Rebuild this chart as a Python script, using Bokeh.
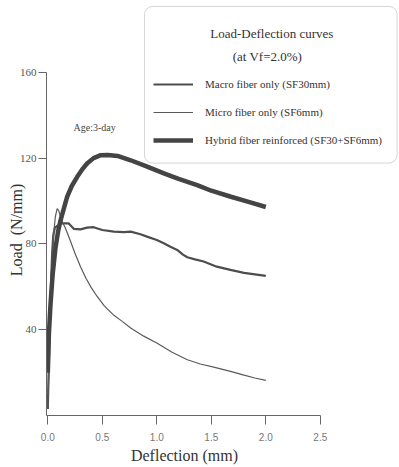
from bokeh.plotting import figure
from bokeh.models import Range1d, FixedTicker, BoxAnnotation, Label, Legend, LegendItem
from bokeh.embed import file_html
from bokeh.resources import INLINE

# ---- data ----
macro_deflection = [0.0, 0.01, 0.02, 0.03, 0.04, 0.05, 0.065, 0.09, 0.13, 0.19, 0.24, 0.3,
                    0.36, 0.42, 0.5, 0.606, 0.7, 0.76, 0.85, 0.91, 1.0, 1.064, 1.12, 1.187,
                    1.24, 1.28, 1.35, 1.43, 1.55, 1.676, 1.8, 1.9, 2.0]
macro_load = [3, 25, 45, 62, 76, 84, 87.5, 88.5, 89.6, 89.6, 87.0, 86.8,
              87.6, 87.8, 86.5, 85.7, 85.5, 85.7, 84.5, 83.4, 81.8, 80.3, 78.8, 77.2,
              75.0, 73.8, 72.8, 71.8, 69.4, 67.9, 66.5, 65.8, 65.1]

micro_deflection = [0.0, 0.01, 0.02, 0.03, 0.04, 0.05, 0.06, 0.07, 0.086, 0.1, 0.115, 0.135,
                    0.16, 0.18, 0.21, 0.25, 0.3, 0.35, 0.4, 0.453, 0.52, 0.6, 0.68, 0.76,
                    0.88, 1.0, 1.14, 1.28, 1.4, 1.55, 1.676, 1.8, 1.9, 2.0]
micro_load = [3, 22, 42, 58, 71, 81, 88, 93, 96.5, 95.5, 93, 90,
              87.5, 85, 81, 75.5, 69.4, 64, 59.5, 55.5, 51, 47, 44, 40.8,
              37, 33.8, 29.5, 26, 24, 22.2, 20.6, 18.8, 17.5, 16.4]

hybrid_deflection = [0.0, 0.01, 0.025, 0.045, 0.07, 0.095, 0.117, 0.15, 0.178, 0.22, 0.27,
                     0.32, 0.36, 0.42, 0.48, 0.55, 0.64, 0.76, 0.9, 1.065, 1.2, 1.37, 1.5,
                     1.68, 1.85, 2.0]
hybrid_load = [20, 38, 52, 66, 78, 86, 91, 97, 102, 107, 111.3,
               115, 117.5, 120, 121.3, 121.5, 121, 119, 116.3, 112.9, 110.3, 107.4, 104.8,
               102, 99.5, 97.2]

series_labels = ["Macro fiber only (SF30mm)", "Micro fiber only (SF6mm)",
                 "Hybrid fiber reinforced (SF30+SF6mm)"]

x_ticks = [0.0, 0.5, 1.0, 1.5, 2.0, 2.5]
x_tick_labels = ["0.0", "0.5", "1.0", "1.5", "2.0", "2.5"]
y_ticks = [40, 80, 120, 160]
y_tick_labels = ["40", "80", "120", "160"]

SERIF = "Liberation Serif"
AXSERIF = "Times New Roman"
NB = "\u00a0"

X0 = -0.012
p = figure(width=398, height=466, output_backend="svg", toolbar_location=None,
           x_range=Range1d(X0, X0 + 352 / 109), y_range=Range1d(0, 416 / 2.15),
           min_border_left=46, min_border_right=0, min_border_top=0, min_border_bottom=50)
p.outline_line_color = None
p.grid.visible = False
p.background_fill_color = "white"
p.border_fill_color = "white"

r_macro = p.line(macro_deflection, macro_load, line_color="#4d4d4d", line_width=2.2)
r_micro = p.line(micro_deflection, micro_load, line_color="#5a5a5a", line_width=1.2)
r_hybrid = p.line(hybrid_deflection, hybrid_load, line_color="#444444", line_width=4.5)

# x axis
xa = p.xaxis[0]
xa.ticker = FixedTicker(ticks=x_ticks)
xa.major_label_overrides = {t: s for t, s in zip(x_ticks, x_tick_labels)}
xa.bounds = (X0, 2.5)
xa.minor_tick_line_color = None
xa.major_tick_in = 0
xa.major_tick_out = 9
xa.axis_line_color = "#666666"
xa.major_tick_line_color = "#666666"
xa.major_label_text_font = "Liberation Sans"
xa.major_label_text_font_size = "10px"
xa.major_label_text_color = "#777777"
xa.major_label_standoff = 8
xa.axis_label = "Deflection (mm)" + NB * 19
xa.axis_label_text_font = AXSERIF
xa.axis_label_text_font_size = "16px"
xa.axis_label_text_font_style = "normal"
xa.axis_label_text_color = "#333333"
xa.axis_label_standoff = 3

# y axis
ya = p.yaxis[0]
ya.ticker = FixedTicker(ticks=y_ticks)
ya.major_label_overrides = {t: s for t, s in zip(y_ticks, y_tick_labels)}
ya.bounds = (0, 160)
ya.minor_tick_line_color = None
ya.major_tick_in = 0
ya.major_tick_out = 8
ya.axis_line_color = "#666666"
ya.major_tick_line_color = "#666666"
ya.major_label_text_font = AXSERIF
ya.major_label_text_font_size = "11px"
ya.major_label_text_color = "#555555"
ya.major_label_standoff = 2
ya.axis_label = "Load " + NB + "(N/mm)" + NB * 11
ya.axis_label_text_font = AXSERIF
ya.axis_label_text_font_size = "16px"
ya.axis_label_text_font_style = "normal"
ya.axis_label_text_color = "#333333"
ya.axis_label_standoff = -8

p.add_layout(Label(x=0.236, y=134.4, text="Age:3-day", text_align="left",
                   text_baseline="middle", text_font=SERIF, text_font_size="10px",
                   text_color="#444444"))

# legend box
p.add_layout(BoxAnnotation(left=0.887, right=3.205, top=190.7, bottom=117.7,
                           fill_color="white", fill_alpha=1.0, line_color="#777777",
                           line_width=1, border_radius=8))
p.add_layout(Label(x=2.055, y=178.1, text="Load-Deflection curves", text_align="center",
                   text_baseline="middle", text_font=SERIF, text_font_size="13px",
                   text_color="#333333"))
p.add_layout(Label(x=2.015, y=167.4, text="(at Vf=2.0%)", text_align="center",
                   text_baseline="middle", text_font=SERIF, text_font_size="13px",
                   text_color="#333333"))

legend = Legend(items=[LegendItem(label=series_labels[0], renderers=[r_macro]),
                       LegendItem(label=series_labels[1], renderers=[r_micro]),
                       LegendItem(label=series_labels[2], renderers=[r_hybrid])],
                location=(107, 265), orientation="vertical", padding=0, margin=0,
                spacing=8, glyph_width=40, glyph_height=20, label_height=20,
                label_standoff=12, label_text_font=SERIF, label_text_font_size="11px",
                label_text_color="#333333", border_line_color=None,
                background_fill_alpha=0)
p.add_layout(legend)

open("out.html", "w").write(file_html(p, INLINE))
